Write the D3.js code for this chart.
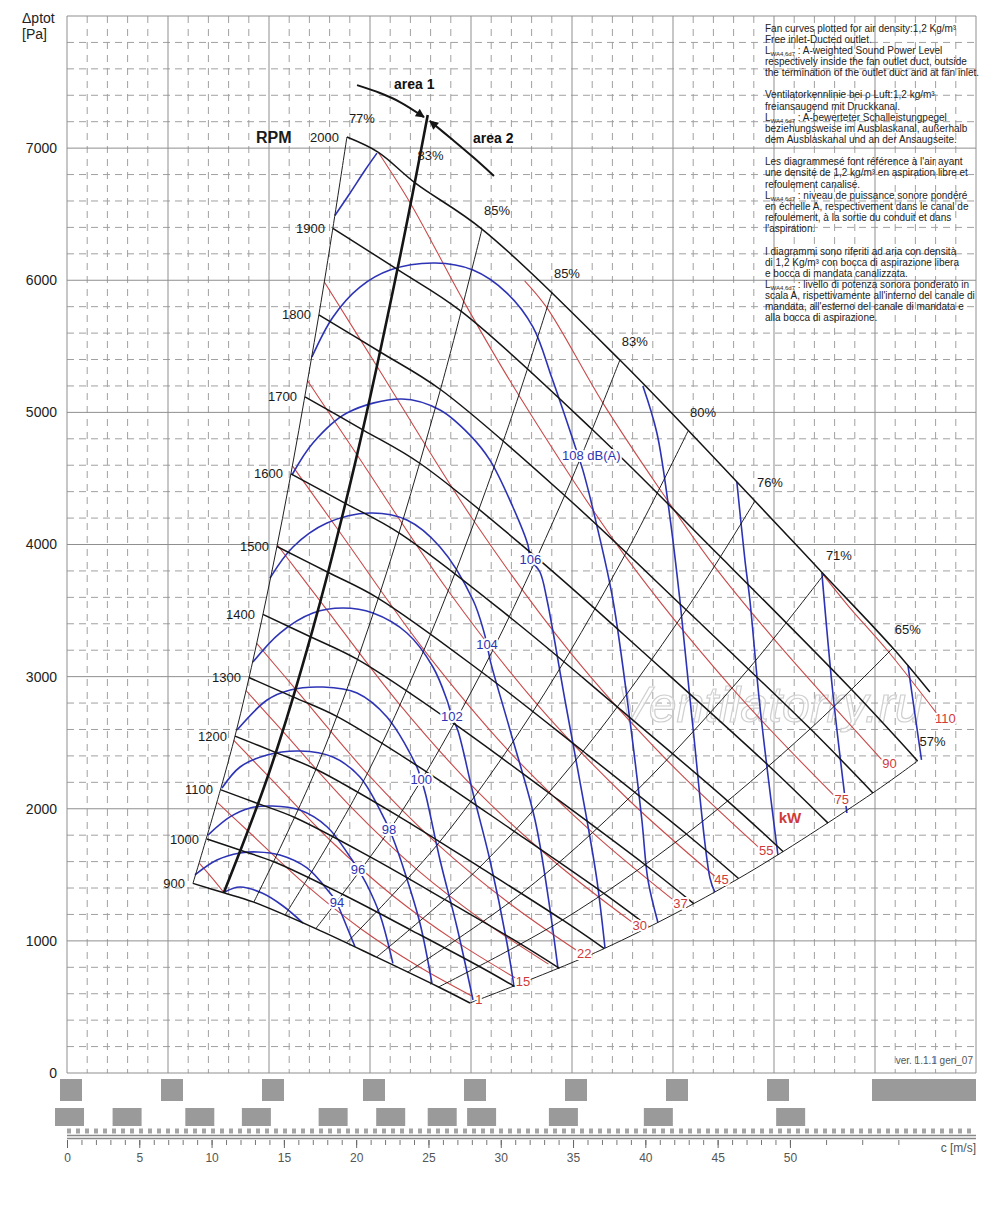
<!DOCTYPE html>
<html>
<head>
<meta charset="utf-8">
<script src="https://cdn.jsdelivr.net/npm/d3@7"></script>
<style>
  body { margin: 0; background: #fff; }
  text { font-family: "Liberation Sans", Arial, sans-serif; }
</style>
</head>
<body>
<svg id="chart" width="1000" height="1218"></svg>
<script>
// ---- data: c = outlet velocity [m/s], dp = total pressure [Pa] ----
const yTicks = [0, 1000, 2000, 3000, 4000, 5000, 6000, 7000]
const cTicks = [0, 5, 10, 15, 20, 25, 30, 35, 40, 45, 50]
const cMinor = d3.range(0, 51, 1).concat([52.5, 55, 57.5])

const rpmValues = [900, 1000, 1100, 1200, 1300, 1400, 1500, 1600, 1700, 1800, 1900, 2000]
const rpmCurves = [
  [[8.71,1435],[10.85,1364],[12.92,1293],[17.21,1093],[21.41,877],[25.70,651],[27.87,530]],
  [[9.68,1771],[12.05,1684],[14.35,1597],[19.12,1349],[23.79,1082],[28.56,804],[30.97,654]],
  [[10.65,2143],[13.26,2037],[15.79,1932],[21.03,1632],[26.17,1310],[31.42,973],[34.06,792]],
  [[11.62,2550],[14.46,2425],[17.22,2299],[22.94,1943],[28.55,1558],[34.27,1158],[37.16,942]],
  [[12.58,2993],[15.67,2845],[18.66,2699],[24.86,2280],[30.93,1829],[37.13,1359],[40.25,1106]],
  [[13.55,3471],[16.87,3300],[20.09,3130],[26.77,2644],[33.31,2121],[39.98,1576],[43.35,1282]],
  [[14.52,3985],[18.08,3788],[21.53,3593],[28.68,3035],[35.69,2435],[42.84,1809],[46.45,1472]],
  [[15.49,4534],[19.28,4310],[22.96,4088],[30.59,3453],[38.06,2771],[45.70,2058],[49.54,1675]],
  [[16.46,5118],[20.49,4866],[24.40,4615],[32.50,3899],[40.44,3128],[48.55,2324],[52.64,1891]],
  [[17.42,5738],[21.69,5455],[25.83,5173],[34.42,4371],[42.82,3506],[51.41,2605],[55.74,2120]],
  [[18.39,6393],[22.90,6078],[27.27,5764],[36.33,4870],[45.20,3907],[54.26,2902],[58.83,2362]],
  [[19.36,7084],[21.51,6970],[24.10,6735],[28.70,6387],[38.24,5396],[47.58,4329],[52.35,3773],[57.12,3216],[59.68,2883]]
]

// efficiency (system) lines, bottom to top
const effLabels = ['77%', '85%', '85%', '83%', '80%', '76%', '71%', '65%', '57%']
const effLines = [
  [[8.71,1435],[11.62,2550],[14.52,3985],[17.42,5738],[19.36,7084]],
  [[12.92,1293],[17.22,2299],[21.53,3593],[25.83,5173],[28.70,6387]],
  [[15.09,1197],[20.12,2128],[25.16,3324],[30.19,4787],[33.54,5910]],
  [[17.21,1093],[22.94,1943],[28.68,3035],[34.42,4371],[38.24,5396]],
  [[19.33,984],[25.77,1749],[32.21,2733],[38.66,3935],[42.95,4858]],
  [[21.41,877],[28.55,1558],[35.69,2435],[42.82,3506],[47.58,4329]],
  [[23.56,764],[31.41,1358],[39.26,2122],[47.12,3056],[52.35,3773]],
  [[25.70,651],[34.27,1158],[42.84,1809],[51.41,2605],[57.12,3216]],
  [[27.87,530],[37.16,942],[46.45,1472],[55.74,2120],[58.83,2362]]
]

// area 1 / area 2 boundary (83%) and its arrow
const areaLine = [[10.85,1366],[14.0,2280],[17.0,3360],[20.0,4650],[23.0,6160],[24.95,7250]]
const areaLabelAt = [24.1, 6735]
const arrowLeft = [[20.06,7477],[21.65,7417],[23.03,7349],[24.69,7235]]
const arrowRight = [[29.53,6789],[28.08,6932],[26.69,7061],[25.10,7205]]

// absorbed power [kW]
const kwLabels = ['', '1', '15', '', '22', '30', '37', '45', '55', '75', '90', '110']
const kwLines = [
  [[9.16,1586],[10.0,1480],[10.85,1366]],
  [[10.41,2047],[12.55,1828],[16.48,1427],[20.34,1090],[24.26,810],[28.00,583]],
  [[11.54,2517],[13.92,2247],[18.27,1754],[22.56,1340],[26.90,996],[31.05,717]],
  [[12.38,2895],[14.93,2585],[19.60,2018],[24.19,1541],[28.85,1146],[33.30,824]],
  [[13.12,3252],[15.82,2903],[20.77,2266],[25.64,1731],[30.57,1287],[35.29,925]],
  [[14.54,3998],[17.54,3568],[23.03,2786],[28.42,2128],[33.90,1582],[39.13,1138]],
  [[15.59,4595],[18.81,4102],[24.69,3203],[30.48,2446],[36.35,1819],[41.95,1308]],
  [[16.65,5237],[20.08,4675],[26.36,3650],[32.53,2788],[38.80,2072],[44.79,1491]],
  [[17.80,5987],[21.47,5344],[28.18,4172],[34.79,3186],[41.48,2369],[47.88,1704]],
  [[21.55,6965],[23.81,6572],[27.44,5840],[31.25,5130],[38.57,3918],[46.00,2913],[53.10,2095]],
  [[31.65,5996],[33.20,5791],[37.07,5070],[40.98,4422],[44.78,3834],[48.87,3288],[56.41,2365]],
  [[52.2,3785],[54.0,3540],[56.8,3190],[60.27,2705]]
]

// sound power level LWA [dB(A)]; labelAt = index of the point carrying the label
const dbLabels = ['', '94', '96', '98', '100', '102', '104', '106', '108 dB(A)', '', '', '', '', '']
const dbLabelAt = [-1, 7, 7, 7, 7, 8, 8, 9, 10, -1, -1, -1, -1, -1]
const dbLines = [
  [[10.9,1370],[11.96,1408],[13.49,1362],[14.94,1264],[16.32,1135]],
  [[8.85,1500],[10.37,1612],[11.97,1665],[13.14,1673],[14.73,1650],[16.60,1552],[18.19,1362],[18.67,1290],[18.88,1234],[19.92,955]],
  [[9.75,1801],[11.27,1938],[12.66,2006],[14.18,2021],[16.11,1990],[18.0,1862],[19.72,1612],[20.12,1544],[20.75,1423],[21.65,1196],[22.54,830]],
  [[10.72,2157],[11.97,2316],[13.84,2407],[16.11,2437],[18.39,2391],[20.26,2240],[21.99,1915],[22.27,1847],[22.54,1779],[23.38,1514],[24.41,1135],[25.24,680]],
  [[11.76,2596],[13.84,2823],[15.44,2899],[17.70,2921],[20.06,2876],[22.13,2694],[24.20,2316],[24.50,2220],[24.80,2110],[25.80,1612],[26.97,1105],[28.08,553]],
  [[12.86,3110],[14.73,3330],[17.01,3481],[19.09,3519],[21.16,3481],[23.51,3330],[25.31,3073],[26.28,2823],[26.62,2700],[27.04,2590],[28.08,2119],[29.25,1612],[30.43,984],[30.91,658]],
  [[14.04,3746],[15.63,3981],[17.98,4162],[20.95,4238],[23.51,4185],[25.80,3981],[28.08,3580],[28.84,3337],[29.05,3240],[29.30,3110],[30.64,2596],[32.37,1915],[33.26,1347],[33.96,790]],
  [[15.56,4526],[17.01,4768],[19.36,4995],[23.17,5101],[25.80,5018],[27.87,4828],[29.25,4639],[30.84,4284],[31.88,3996],[32.05,3890],[32.71,3792],[33.20,3580],[34.44,2823],[35.96,1915],[36.65,1461],[37.21,946]],
  [[16.94,5419],[18.40,5722],[20.26,5948],[22.34,6077],[25.45,6130],[28.08,6077],[30.43,5903],[32.23,5646],[33.54,5260],[35.0,4791],[35.34,4677],[35.68,4563],[36.72,4109],[37.76,3580],[38.93,2672],[39.76,1915],[40.18,1461],[40.87,1139]],
  [[18.53,6490],[19.57,6659],[20.61,6833],[21.44,6962]],
  [[39.83,5200],[40.80,4844],[41.70,4208],[42.39,3580],[43.29,2619],[44.47,1476],[44.81,1369]],
  [[46.33,4473],[46.89,3882],[47.23,3580],[47.93,2770],[49.17,1650]],
  [[52.21,3785],[52.97,2876],[53.94,1968]],
  [[58.16,3087],[59.1,2370]]
]

// blurred flow-rate scales under the chart (label centres, flow units)
const hiddenRow1 = [0, 1, 2, 3, 4, 5, 6, 7]
const hiddenRow2 = [0.02, 0.59, 1.31, 1.87, 2.63, 3.2, 3.71, 4.1, 4.91, 5.85, 7.16]

const noteLines = [
  'Fan curves plotted for air density:1,2 Kg/m³',
  'Free inlet-Ducted outlet.',
  'L{WA4,6d7} : A-weighted Sound Power Level',
  'respectively inside the fan outlet duct, outside',
  'the termination of the outlet duct and at fan inlet.',
  '',
  'Ventilatorkennlinie bei ρ Luft:1,2 kg/m³',
  'freiansaugend mit Druckkanal.',
  'L{WA4,6d7} : A-bewerteter Schalleistungpegel',
  'beziehungsweise im Ausblaskanal, außerhalb',
  'dem Ausblaskanal und an der Ansaugseite.',
  '',
  'Les diagrammesé font référence à l\'air ayant',
  'une densité de 1,2 kg/m³ en aspiration libre et',
  'refoulement canalisé.',
  'L{WA4,6d7} : niveau de puissance sonore pondéré',
  'en échelle A, respectivement dans le canal de',
  'refoulement, à la sortie du conduit et dans',
  'l\'aspiration.',
  '',
  'I diagrammi sono riferiti ad aria con densità',
  'di 1,2 Kg/m³ con bocca di aspirazione libera',
  'e bocca di mandata canalizzata.',
  'L{WA4,6d7} : livello di potenza sonora ponderato in',
  'scala A, rispettivamente all\'interno del canale di',
  'mandata, all\'esterno del canale di mandata e',
  'alla bocca di aspirazione.'
]

// ---- drawing ----
const svg = d3.select('#chart')
const x = d3.scaleLinear().domain([0, 62.87]).range([67, 976])
const xq = d3.scaleLinear().domain([0, 9]).range([67, 976])
const y = d3.scaleLinear().domain([0, 8000]).range([1073, 16])

const curve = d3.line()
  .x(d => x(d[0]))
  .y(d => y(d[1]))
  .curve(d3.curveCatmullRom.alpha(0.5))

const BLUE = '#2d33b5'
const RED = '#c94a4a'
const INK = '#151515'

// grid
const grid = svg.append('g').attr('class', 'grid')
grid.selectAll('.hmin')
  .data(d3.range(200, 8000, 200).filter(v => v % 1000 !== 0))
  .join('line')
  .attr('x1', x.range()[0]).attr('x2', x.range()[1])
  .attr('y1', d => y(d)).attr('y2', d => y(d))
  .attr('stroke', '#a0a0a0').attr('stroke-dasharray', '7,5')
grid.selectAll('.vmin')
  .data(d3.range(0.2, 9, 0.2).filter(v => Math.abs(v - Math.round(v)) > 0.01))
  .join('line')
  .attr('x1', d => xq(d)).attr('x2', d => xq(d))
  .attr('y1', y(8000)).attr('y2', y(0))
  .attr('stroke', '#a0a0a0').attr('stroke-dasharray', '7,6')
grid.selectAll('.hmaj')
  .data(d3.range(0, 8001, 1000))
  .join('line')
  .attr('x1', x.range()[0]).attr('x2', x.range()[1])
  .attr('y1', d => y(d)).attr('y2', d => y(d))
  .attr('stroke', '#8f8f8f')
grid.selectAll('.vmaj')
  .data(d3.range(0, 10, 1))
  .join('line')
  .attr('x1', d => xq(d)).attr('x2', d => xq(d))
  .attr('y1', y(8000)).attr('y2', y(0))
  .attr('stroke', '#8f8f8f')

// y axis labels
const yAxis = svg.append('g')
  .attr('transform', `translate(${x.range()[0]},0)`)
  .call(d3.axisLeft(y).tickValues(yTicks).tickFormat(d3.format('d')).tickSize(0).tickPadding(10))
yAxis.select('.domain').remove()
yAxis.selectAll('text').attr('font-size', 14).attr('fill', '#222')
  .style('font-family', '"Liberation Sans", Arial, sans-serif')

svg.append('text').attr('x', 22).attr('y', 23).attr('font-size', 14).attr('fill', '#222').text('Δptot')
svg.append('text').attr('x', 22).attr('y', 39).attr('font-size', 14).attr('fill', '#222').text('[Pa]')

// watermark
svg.append('text')
  .attr('x', 770).attr('y', 722)
  .attr('text-anchor', 'middle')
  .attr('font-size', 50).attr('font-style', 'italic')
  .attr('fill', 'rgba(255,255,255,0.55)').attr('stroke', '#cfcfcf').attr('stroke-width', 1.2)
  .text('Ventilatorry.ru')

// power lines
svg.append('g').selectAll('path')
  .data(kwLines)
  .join('path')
  .attr('d', curve)
  .attr('fill', 'none').attr('stroke', RED).attr('stroke-width', 1.1)

// sound lines
svg.append('g').selectAll('path')
  .data(dbLines)
  .join('path')
  .attr('d', curve)
  .attr('fill', 'none').attr('stroke', BLUE).attr('stroke-width', 1.6)

// efficiency lines
svg.append('g').selectAll('path')
  .data(effLines)
  .join('path')
  .attr('d', curve)
  .attr('fill', 'none').attr('stroke', INK).attr('stroke-width', 0.95)

// rpm curves
svg.append('g').selectAll('path')
  .data(rpmCurves)
  .join('path')
  .attr('d', curve)
  .attr('fill', 'none').attr('stroke', INK).attr('stroke-width', 1.5)

// area boundary + arrow
svg.append('defs').append('marker')
  .attr('id', 'arrowHead')
  .attr('viewBox', '0 0 10 10').attr('refX', 9).attr('refY', 5)
  .attr('markerWidth', 5).attr('markerHeight', 4.5)
  .attr('orient', 'auto')
  .append('path').attr('d', 'M0,0L10,5L0,10z').attr('fill', INK)

svg.append('path').attr('d', curve(areaLine))
  .attr('fill', 'none').attr('stroke', INK).attr('stroke-width', 2.6)
svg.selectAll('.arrow')
  .data([arrowLeft, arrowRight])
  .join('path')
  .attr('d', curve)
  .attr('fill', 'none').attr('stroke', INK).attr('stroke-width', 2)
  .attr('marker-end', 'url(#arrowHead)')

// labels
const halo = sel => sel.attr('stroke', '#fff').attr('stroke-width', 4)
  .attr('paint-order', 'stroke').attr('stroke-linejoin', 'round')

svg.append('g').selectAll('text')
  .data(rpmCurves)
  .join('text')
  .attr('x', d => x(d[0][0]) - 8)
  .attr('y', d => y(d[0][1]))
  .attr('dy', '0.35em')
  .attr('text-anchor', 'end')
  .attr('font-size', 13).attr('fill', '#1a1a1a')
  .text((d, i) => rpmValues[i])

svg.append('text').attr('x', 256).attr('y', 143)
  .attr('font-size', 16).attr('font-weight', 'bold').attr('fill', '#1a1a1a').text('RPM')

svg.append('g').selectAll('text')
  .data(effLines)
  .join('text')
  .attr('x', d => x(d[d.length - 1][0]) + 15)
  .attr('y', d => y(d[d.length - 1][1]) - 19)
  .attr('dy', '0.35em')
  .attr('text-anchor', 'middle')
  .attr('font-size', 13).attr('fill', '#1a1a1a')
  .text((d, i) => effLabels[i])

svg.append('text')
  .attr('x', x(areaLabelAt[0]) + 15).attr('y', y(areaLabelAt[1]) - 28)
  .attr('dy', '0.35em').attr('text-anchor', 'middle')
  .attr('font-size', 13).attr('fill', '#1a1a1a').text('83%')

svg.append('text').attr('x', 394).attr('y', 89)
  .attr('font-size', 14).attr('font-weight', 'bold').attr('fill', '#111').text('area 1')
svg.append('text').attr('x', 473).attr('y', 143)
  .attr('font-size', 14).attr('font-weight', 'bold').attr('fill', '#111').text('area 2')

svg.append('g').selectAll('text')
  .data(dbLines.filter((d, i) => dbLabels[i]))
  .join('text')
  .each(function (d) {
    const i = dbLines.indexOf(d)
    const p = d[dbLabelAt[i]]
    const wide = dbLabels[i].length > 3
    d3.select(this)
      .attr('x', x(p[0]) + (wide ? -16 : 0))
      .attr('y', y(p[1]))
      .attr('text-anchor', wide ? 'start' : 'middle')
      .text(dbLabels[i])
  })
  .attr('dy', '0.35em')
  .attr('font-size', 13).attr('fill', BLUE)
  .call(halo)

svg.append('g').selectAll('text')
  .data(kwLines.filter((d, i) => kwLabels[i]))
  .join('text')
  .attr('x', d => x(d[d.length - 1][0]) + 7)
  .attr('y', d => y(d[d.length - 1][1]) + 3)
  .attr('dy', '0.35em')
  .attr('text-anchor', 'middle')
  .attr('font-size', 13).attr('fill', '#d03a3a')
  .call(halo)
  .text(d => kwLabels[kwLines.indexOf(d)])

svg.append('text').attr('x', 790).attr('y', 823)
  .attr('text-anchor', 'middle').attr('font-size', 15).attr('font-weight', 'bold')
  .attr('fill', '#d03a3a').text('kW')

// notes block
const notes = svg.append('g').attr('font-size', 10).attr('fill', '#222')
noteLines.forEach((t, i) => {
  if (!t) return
  const tx = notes.append('text').attr('x', 765).attr('y', 31.5 + i * 11.15)
  const m = t.match(/^(.*)\{(.*)\}(.*)$/)
  if (m) {
    tx.append('tspan').text(m[1])
    tx.append('tspan').attr('font-size', 6).attr('dy', 2).text(m[2])
    tx.append('tspan').attr('dy', -2).text(m[3])
  } else {
    tx.text(t)
  }
})

svg.append('text').attr('x', 973).attr('y', 1064).attr('text-anchor', 'end')
  .attr('font-size', 10).attr('fill', '#555').text('ver. 1.1.1 gen_07')

// blurred flow scales
const hidden = svg.append('g').attr('fill', '#9a9a9a')
hidden.selectAll('.r1')
  .data(hiddenRow1)
  .join('rect')
  .attr('x', d => xq(d) - 7).attr('y', 1079)
  .attr('width', 22).attr('height', 22)
hidden.append('rect').attr('x', 872).attr('y', 1079).attr('width', 104).attr('height', 22)
hidden.selectAll('.r2')
  .data(hiddenRow2)
  .join('rect')
  .attr('x', d => xq(d) - 14).attr('y', 1108)
  .attr('width', 29).attr('height', 18)
svg.append('line').attr('x1', 67).attr('x2', 976).attr('y1', 1131).attr('y2', 1131)
  .attr('stroke', '#a5a5a5').attr('stroke-width', 5).attr('stroke-dasharray', '4,5')
svg.append('line').attr('x1', 67).attr('x2', 976).attr('y1', 1135.5).attr('y2', 1135.5)
  .attr('stroke', '#888').attr('stroke-width', 1.5)
svg.append('line').attr('x1', 67).attr('x2', 976).attr('y1', 1138.5).attr('y2', 1138.5)
  .attr('stroke', '#888').attr('stroke-width', 1.5)

// velocity axis
const cAxisMinor = svg.append('g')
  .attr('transform', 'translate(0,1140)')
  .call(d3.axisBottom(x).tickValues(cMinor).tickSize(5).tickFormat(''))
cAxisMinor.select('.domain').remove()
cAxisMinor.selectAll('line').attr('stroke', '#777')
const cAxis = svg.append('g')
  .attr('transform', 'translate(0,1140)')
  .call(d3.axisBottom(x).tickValues(cTicks).tickSize(8).tickPadding(5))
cAxis.select('.domain').remove()
cAxis.selectAll('line').attr('stroke', '#666')
cAxis.selectAll('text').attr('font-size', 12).attr('fill', '#555')
  .style('font-family', '"Liberation Sans", Arial, sans-serif')
svg.append('text').attr('x', 976).attr('y', 1152).attr('text-anchor', 'end')
  .attr('font-size', 12).attr('fill', '#555').text('c [m/s]')
</script>
</body>
</html>
